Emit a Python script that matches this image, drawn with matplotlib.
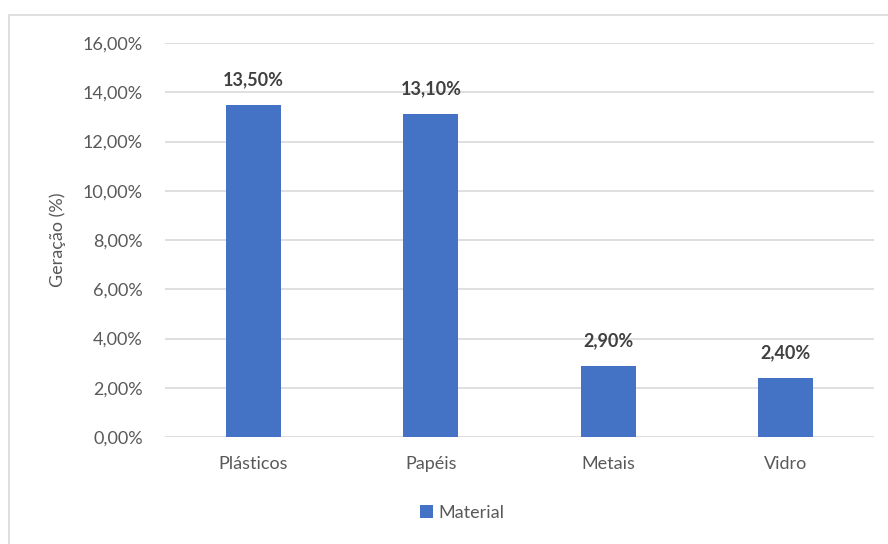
import matplotlib
matplotlib.use("Agg")
import matplotlib.pyplot as plt
from matplotlib.patches import Rectangle
from matplotlib.ticker import FuncFormatter

categories = ["Plásticos", "Papéis", "Metais", "Vidro"]
values = [13.50, 13.10, 2.90, 2.40]
series_name = "Material"
y_label = "Geração (%)"

plt.rcParams['font.family'] = ['Lato', 'DejaVu Sans']
text_color = "#595959"
bar_color = "#4472C4"

fig = plt.figure(figsize=(8.88, 5.44), dpi=100)
W, H = 888, 544
ax = fig.add_axes([165 / W, 1 - 437 / H, (874 - 165) / W, (437 - 43) / H])

x = range(len(categories))
ax.bar(x, values, width=0.31, color=bar_color, zorder=3, label=series_name)
ax.set_xlim(-0.5, len(categories) - 0.5)
ax.set_ylim(0, 16)
ax.set_yticks([0, 2, 4, 6, 8, 10, 12, 14, 16])
ax.yaxis.set_major_formatter(FuncFormatter(lambda v, p: f"{v:.2f}%".replace(".", ",")))
ax.set_xticks(list(x))
ax.set_xticklabels(categories)
ax.grid(axis="y", color="#d9d9d9", linewidth=1.2, zorder=0)
for s in ax.spines.values():
    s.set_visible(False)
ax.tick_params(axis="both", length=0, colors=text_color, labelsize=13)
ax.tick_params(axis="y", pad=16)
ax.tick_params(axis="x", pad=14)

for xi, v in zip(x, values):
    ax.annotate(f"{v:.2f}%".replace(".", ","), (xi, v), xytext=(0, 12),
                textcoords="offset points", ha="center", va="bottom",
                fontsize=13, fontweight="bold", color="#404040")

ax.set_ylabel(y_label, color=text_color, fontsize=13, labelpad=12)

leg = fig.legend(loc="center", bbox_to_anchor=(462 / W, 1 - 513 / H), frameon=False,
                 fontsize=13, handlelength=0.7, handleheight=0.7, handletextpad=0.3)
for t in leg.get_texts():
    t.set_color(text_color)

# chart outline
fig.patches.append(Rectangle((9 / W, -0.01), 1.0, 1 - 15 / H + 0.01, transform=fig.transFigure,
                             fill=False, edgecolor="#d9d9d9", linewidth=1.2))

fig.savefig("out.png", dpi=100, facecolor="white")
